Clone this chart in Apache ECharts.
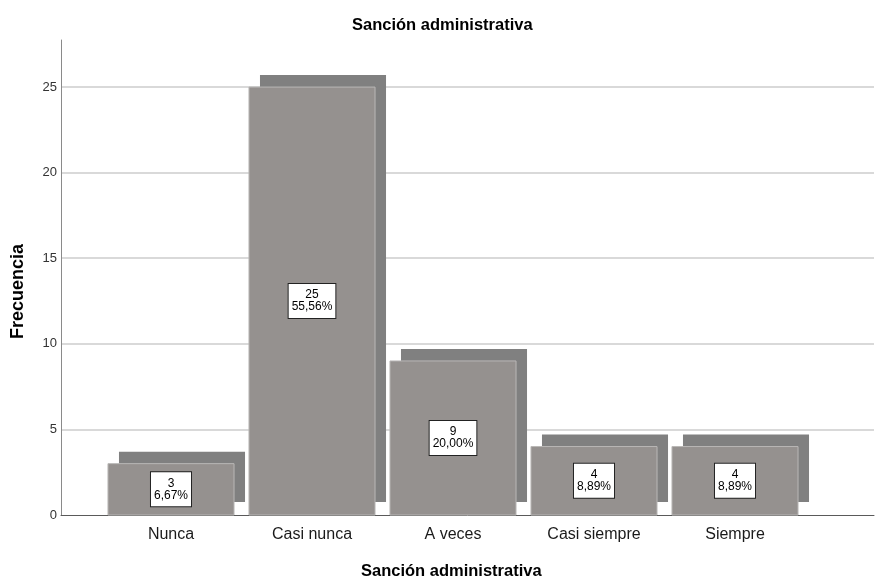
<!DOCTYPE html>
<html>
<head>
<meta charset="utf-8">
<script src="https://cdn.jsdelivr.net/npm/echarts@6/dist/echarts.min.js"></script>
<style>html,body{margin:0;padding:0;background:#fff}#c{width:875px;height:581px}</style>
</head>
<body>
<div id="c"></div>
<script>
const categories = ['Nunca', 'Casi nunca', 'A veces', 'Casi siempre', 'Siempre'];
const frequencies = [3, 25, 9, 4, 4];
const percentLabels = ['6,67%', '55,56%', '20,00%', '8,89%', '8,89%'];
const yTicks = [0, 5, 10, 15, 20, 25];
const chartTitle = 'Sanción administrativa';
const xAxisTitle = 'Sanción administrativa';
const yAxisTitle = 'Frecuencia';

const FONT = '"Liberation Sans", Arial, sans-serif';
const chart = echarts.init(document.getElementById('c'), null, {renderer: 'canvas'});

const seriesData = categories.map((c, i) => [i, frequencies[i], percentLabels[i]]);

const option = {
  animation: false,
  backgroundColor: '#ffffff',
  graphic: [
    {type: 'text', left: 352, top: 17, style: {text: chartTitle, font: 'bold 16.5px ' + FONT, fill: '#000'}},
    {type: 'text', left: 361, top: 563, style: {text: xAxisTitle, font: 'bold 16.5px ' + FONT, fill: '#000'}},
    {type: 'text', x: 9, y: 339, rotation: Math.PI / 2, style: {text: yAxisTitle, font: 'bold 18px ' + FONT, fill: '#000', align: 'left', verticalAlign: 'top'}}
  ],
  grid: [
    {left: 61, right: 1, top: 40, bottom: 66},
    {left: 100.5, right: 69.5, top: 40, bottom: 66}
  ],
  xAxis: [
    {type: 'value', gridIndex: 0, min: 0, max: 1,
     axisLine: {show: true, lineStyle: {color: '#5a5a5a', width: 1}},
     axisTick: {show: false}, axisLabel: {show: false}, splitLine: {show: false}},
    {type: 'category', gridIndex: 1, data: categories,
     axisLine: {show: false}, axisTick: {show: false},
     axisLabel: {fontFamily: FONT, fontSize: 16, color: '#1a1a1a', margin: 12},
     splitLine: {show: false}}
  ],
  yAxis: [
    {type: 'value', gridIndex: 0, min: 0, max: 27.75, interval: 5,
     axisLine: {show: true, lineStyle: {color: '#8a8a8a', width: 1}},
     axisTick: {show: false},
     axisLabel: {fontFamily: FONT, fontSize: 13, color: '#333', margin: 4, showMaxLabel: false,
       formatter: v => (yTicks.indexOf(v) >= 0 ? String(v) : '')},
     splitLine: {show: true, showMinLine: false, showMaxLine: false, lineStyle: {color: '#cccccc', width: 1.5}}},
    {type: 'value', gridIndex: 1, min: 0, max: 27.75, interval: 5, show: false}
  ],
  series: [{
    type: 'custom',
    xAxisIndex: 1, yAxisIndex: 1,
    clip: false,
    data: seriesData,
    renderItem: function (params, api) {
      const idx = api.value(0), val = api.value(1);
      const top = api.coord([idx, val]);
      const base = api.coord([idx, 0]);
      const band = api.size([1, 0])[0];
      const w = band * 0.894;
      const cx = top[0];
      const h = base[1] - top[1];
      const pct = percentLabels[idx];
      return {
        type: 'group',
        children: [
          {type: 'rect', shape: {x: cx - w / 2 + 11, y: top[1] - 12, width: w, height: h - 1},
           style: {fill: '#808080'}},
          {type: 'rect', shape: {x: cx - w / 2, y: top[1], width: w, height: h},
           style: {fill: '#95918f', stroke: '#b9b7b6', lineWidth: 1}},
          {type: 'text', x: cx, y: (top[1] + base[1]) / 2,
           style: {text: String(val) + '\n' + pct, align: 'center', verticalAlign: 'middle',
             font: '12px ' + FONT, lineHeight: 12, fill: '#000',
             backgroundColor: '#ffffff', borderColor: '#222', borderWidth: 1, padding: [5, 3, 5, 3]}}
        ]
      };
    }
  }]
};
chart.setOption(option);
</script>
</body>
</html>
